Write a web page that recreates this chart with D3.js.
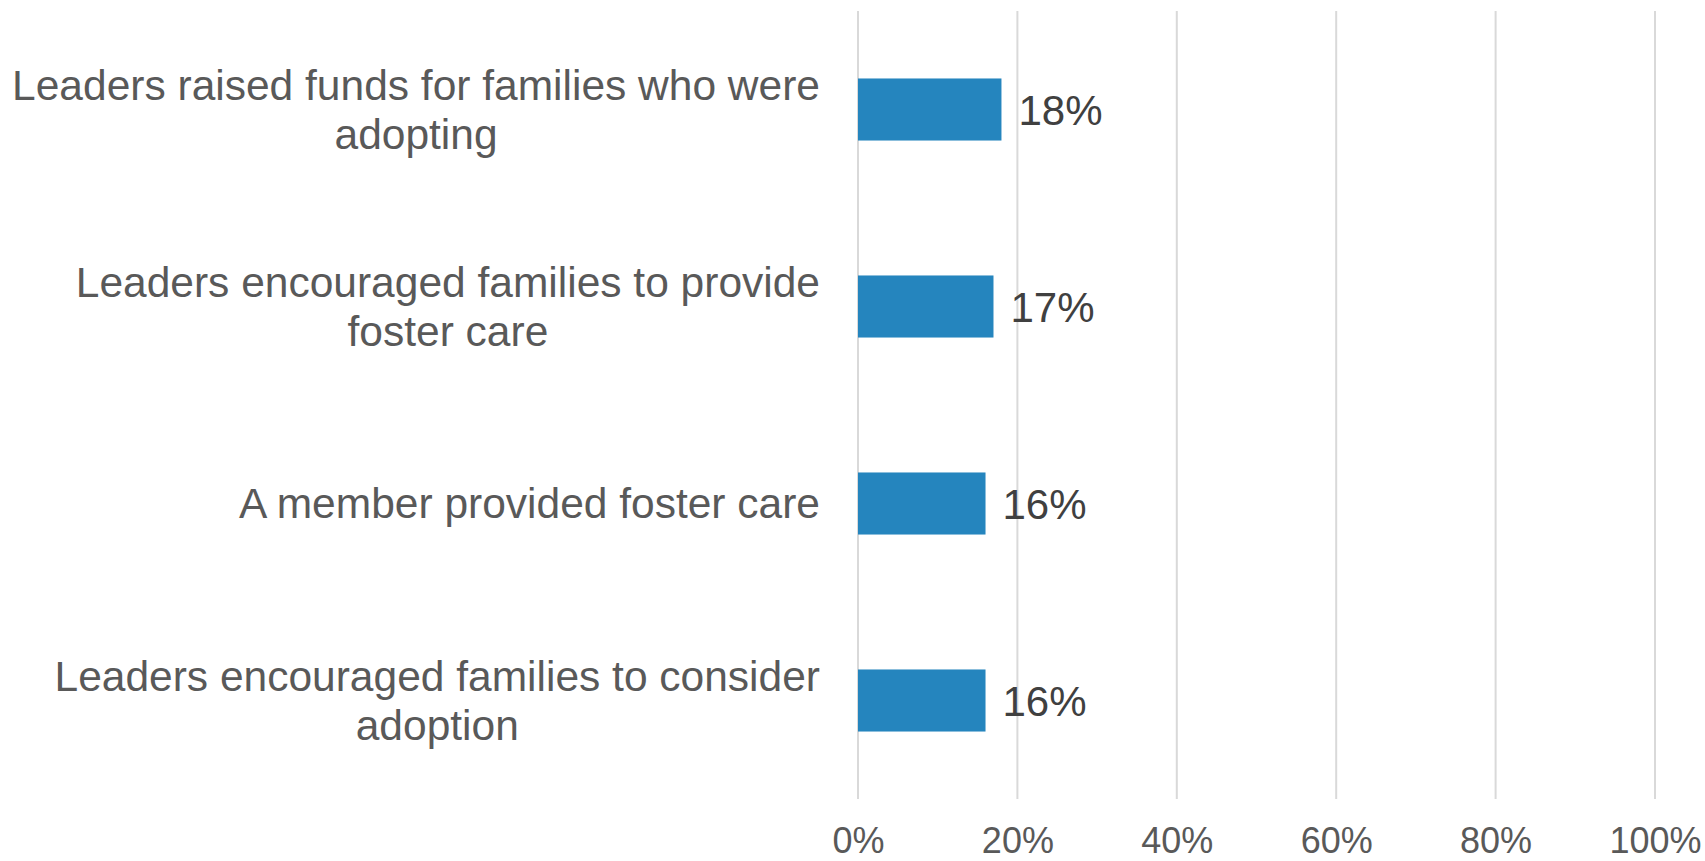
<!DOCTYPE html>
<html>
<head>
<meta charset="utf-8">
<script src="https://cdn.jsdelivr.net/npm/d3@7"></script>
<style>
  body { margin: 0; background: #fff; }
  text { font-family: "Liberation Sans", Arial, sans-serif; }
</style>
</head>
<body>
<div id="chart"></div>
<script>
var categories = [
    "Leaders raised funds for families who were adopting",
    "Leaders encouraged families to provide foster care",
    "A member provided foster care",
    "Leaders encouraged families to consider adoption"
];
var values = [0.18, 0.17, 0.16, 0.16];
var tickValues = [0, 0.2, 0.4, 0.6, 0.8, 1.0];

var width = 1705;
var height = 861;
var marginLeft = 858;
var marginRight = 50;
var marginTop = 11;
var marginBottom = 62;

var chartWidth = width - marginLeft - marginRight;
var chartHeight = height - marginTop - marginBottom;

var svg = d3.select("#chart").append("svg")
    .attr("width", width)
    .attr("height", height);

var chart = svg.append("g")
    .attr("transform", "translate(" + marginLeft + "," + marginTop + ")");

var xScale = d3.scaleLinear()
    .domain([0, 1])
    .range([0, 797]);

var yScale = d3.scaleBand()
    .domain(categories)
    .range([0, chartHeight])
    .paddingInner(0.685)
    .paddingOuter(0.3425);

// gridlines
chart.selectAll("line.grid")
    .data(tickValues)
    .enter()
    .append("line")
        .attr("class", "grid")
        .attr("x1", function(d) { return xScale(d); })
        .attr("x2", function(d) { return xScale(d); })
        .attr("y1", 0)
        .attr("y2", chartHeight)
        .attr("stroke", "#d9d9d9")
        .attr("stroke-width", 2);

// x axis labels
var xAxis = d3.axisBottom(xScale)
    .tickValues(tickValues)
    .tickFormat(d3.format(".0%"))
    .tickSize(0)
    .tickPadding(28);

var xg = chart.append("g")
    .attr("transform", "translate(0," + chartHeight + ")")
    .call(xAxis);
xg.select(".domain").remove();
xg.selectAll("text")
    .style("font-family", "'Liberation Sans', Arial, sans-serif")
    .style("font-size", "36px")
    .attr("fill", "#595959");

// bars
chart.selectAll("rect.bar")
    .data(values)
    .enter()
    .append("rect")
        .attr("class", "bar")
        .attr("x", xScale(0))
        .attr("y", function(d, i) { return yScale(categories[i]); })
        .attr("width", function(d) { return xScale(d); })
        .attr("height", yScale.bandwidth())
        .attr("fill", "#2585be");

// value labels
chart.selectAll("text.value")
    .data(values)
    .enter()
    .append("text")
        .attr("class", "value")
        .attr("x", function(d) { return xScale(d) + 17; })
        .attr("y", function(d, i) { return yScale(categories[i]) + yScale.bandwidth() / 2; })
        .attr("dy", "0.36em")
        .style("font-size", "42px")
        .attr("fill", "#404040")
        .text(function(d) { return d3.format(".0%")(d); });

// category labels, wrapped
var labelRight = -38;
var maxLabelWidth = 818;
var lineHeight = 49;

var labels = chart.selectAll("text.cat")
    .data(categories)
    .enter()
    .append("text")
        .attr("class", "cat")
        .attr("text-anchor", "middle")
        .style("font-size", "42.5px")
        .attr("fill", "#595959");

labels.each(function(d) {
    var t = d3.select(this);
    var words = d.split(" ");
    var lines = [];
    var line = [];
    var probe = t.append("tspan");
    words.forEach(function(w) {
        line.push(w);
        probe.text(line.join(" "));
        if (probe.node().getComputedTextLength() > maxLabelWidth && line.length > 1) {
            line.pop();
            lines.push(line.join(" "));
            line = [w];
        }
    });
    lines.push(line.join(" "));
    probe.remove();

    var widest = 0;
    lines.forEach(function(l) {
        var tmp = t.append("tspan").text(l);
        widest = Math.max(widest, tmp.node().getComputedTextLength());
        tmp.remove();
    });

    var cy = yScale(d) + yScale.bandwidth() / 2;
    var cx = labelRight - widest / 2;
    lines.forEach(function(l, j) {
        t.append("tspan")
            .attr("x", cx)
            .attr("y", cy + (j - (lines.length - 1) / 2) * lineHeight)
            .attr("dy", "0.35em")
            .text(l);
    });
});
</script>
</body>
</html>
